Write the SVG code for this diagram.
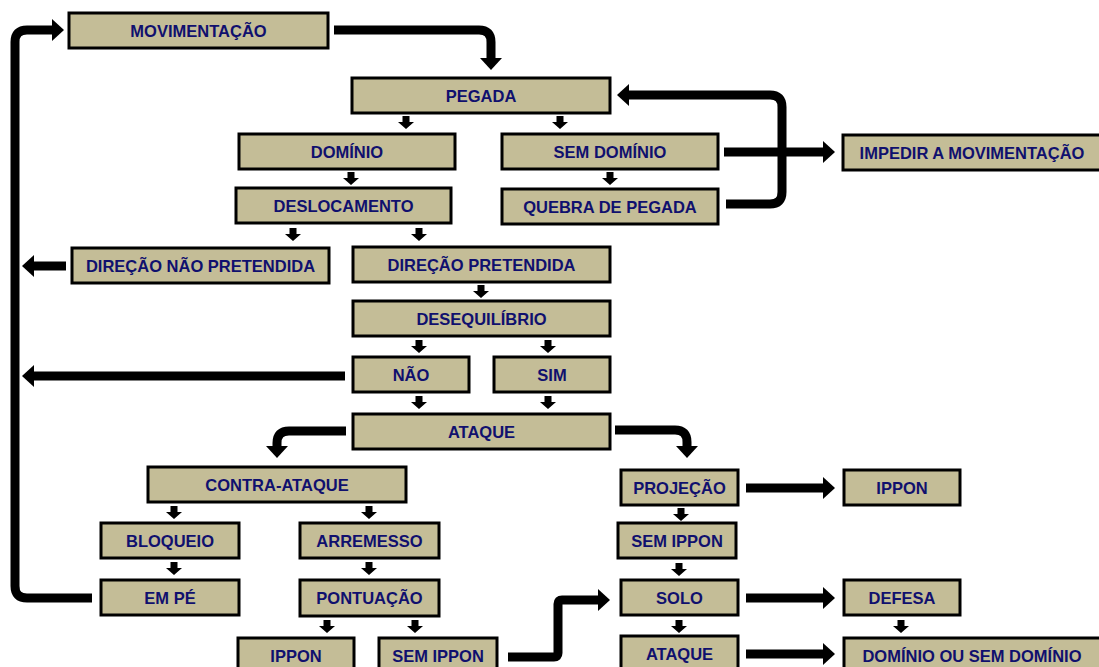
<svg xmlns="http://www.w3.org/2000/svg" xmlns:xlink="http://www.w3.org/1999/xlink" width="1099" height="667" viewBox="0 0 1099 667">
<style>
.box{fill:#C4BD97;stroke:#000;stroke-width:3}
.lbl{font-family:"Liberation Sans",Arial,sans-serif;font-weight:bold;font-size:16.5px;fill:#10106E;text-anchor:middle}
.conn{fill:none;stroke:#000;stroke-width:9}
.sa{fill:#000}
</style>
<defs>
<marker id="ah" markerUnits="userSpaceOnUse" markerWidth="14" markerHeight="24" refX="0" refY="11" orient="auto" viewBox="0 0 14 22">
<path d="M0,0 L12,11 L0,22 Z" fill="#000"/>
</marker>
<path id="da" d="M-3.5,0 h7 v6 h4.5 l-8,7 l-8,-7 h4.5 z"/>
</defs>
<rect width="1099" height="667" fill="#fff"/>

<g id="connectors">
<path class="conn" d="M334,30 H479 Q491,30 491,42 V58" marker-end="url(#ah)"/>
<path class="conn" d="M726,204 H770 Q782,204 782,192 V107 Q782,95 770,95 H629" marker-end="url(#ah)"/>
<path class="conn" d="M724,152 H823" marker-end="url(#ah)"/>
<path class="conn" d="M92,598 H27 Q15,598 15,586 V42 Q15,30 27,30 H52" marker-end="url(#ah)"/>
<path class="conn" d="M66,266 H34" marker-end="url(#ah)"/>
<path class="conn" d="M345,376 H34" marker-end="url(#ah)"/>
<path class="conn" d="M346,431 H289 Q277,431 277,443 V446" marker-end="url(#ah)"/>
<path class="conn" d="M615,430 H675 Q687,430 687,442 V446" marker-end="url(#ah)"/>
<path class="conn" d="M746,488 H823" marker-end="url(#ah)"/>
<path class="conn" d="M746,598 H823" marker-end="url(#ah)"/>
<path class="conn" d="M746,654 H823" marker-end="url(#ah)"/>
<path class="conn" d="M508,657 H554 Q558,657 558,653 V604 Q558,600 562,600 H598" marker-end="url(#ah)"/>
<g class="sa">
<use xlink:href="#da" x="406" y="116"/>
<use xlink:href="#da" x="560" y="116"/>
<use xlink:href="#da" x="351" y="172"/>
<use xlink:href="#da" x="610" y="172"/>
<use xlink:href="#da" x="293" y="228"/>
<use xlink:href="#da" x="419" y="228"/>
<use xlink:href="#da" x="481" y="285"/>
<use xlink:href="#da" x="419" y="340"/>
<use xlink:href="#da" x="548" y="340"/>
<use xlink:href="#da" x="419" y="396"/>
<use xlink:href="#da" x="548" y="396"/>
<use xlink:href="#da" x="174" y="506"/>
<use xlink:href="#da" x="369" y="506"/>
<use xlink:href="#da" x="174" y="562"/>
<use xlink:href="#da" x="369" y="562"/>
<use xlink:href="#da" x="681" y="508"/>
<use xlink:href="#da" x="679" y="563"/>
<use xlink:href="#da" x="327" y="620"/>
<use xlink:href="#da" x="415" y="620"/>
<use xlink:href="#da" x="679" y="620"/>
<use xlink:href="#da" x="901" y="620"/>
</g>
</g>

<g id="n-movimentacao"><rect class="box" x="69" y="13" width="259" height="35"/><text class="lbl" x="198.5" y="36.5">MOVIMENTAÇÃO</text></g>
<g id="n-pegada"><rect class="box" x="352" y="78" width="258" height="35"/><text class="lbl" x="481" y="101.5">PEGADA</text></g>
<g id="n-dominio"><rect class="box" x="239" y="134" width="216" height="35"/><text class="lbl" x="347" y="157.5">DOMÍNIO</text></g>
<g id="n-semdominio"><rect class="box" x="502" y="134" width="216" height="35"/><text class="lbl" x="610" y="157.5">SEM DOMÍNIO</text></g>
<g id="n-impedir"><rect class="box" x="843" y="135" width="260" height="35"/><text class="lbl" x="972" y="158.5">IMPEDIR A MOVIMENTAÇÃO</text></g>
<g id="n-deslocamento"><rect class="box" x="236" y="188" width="215" height="35"/><text class="lbl" x="343.5" y="211.5">DESLOCAMENTO</text></g>
<g id="n-quebra"><rect class="box" x="502" y="189" width="216" height="35"/><text class="lbl" x="610" y="212.5">QUEBRA DE PEGADA</text></g>
<g id="n-dirnaopret"><rect class="box" x="72" y="248" width="257" height="35"/><text class="lbl" x="200.5" y="271.5">DIREÇÃO NÃO PRETENDIDA</text></g>
<g id="n-dirpret"><rect class="box" x="353" y="247" width="257" height="35"/><text class="lbl" x="481.5" y="270.5">DIREÇÃO PRETENDIDA</text></g>
<g id="n-deseq"><rect class="box" x="353" y="301" width="257" height="35"/><text class="lbl" x="481.5" y="324.5">DESEQUILÍBRIO</text></g>
<g id="n-nao"><rect class="box" x="353" y="357" width="116" height="35"/><text class="lbl" x="411" y="380.5">NÃO</text></g>
<g id="n-sim"><rect class="box" x="494" y="357" width="116" height="35"/><text class="lbl" x="552" y="380.5">SIM</text></g>
<g id="n-ataque"><rect class="box" x="353" y="414" width="257" height="35"/><text class="lbl" x="481.5" y="437.5">ATAQUE</text></g>
<g id="n-contra"><rect class="box" x="148" y="467" width="258" height="35"/><text class="lbl" x="277" y="490.5">CONTRA-ATAQUE</text></g>
<g id="n-projecao"><rect class="box" x="621" y="470" width="117" height="35"/><text class="lbl" x="679.5" y="493.5">PROJEÇÃO</text></g>
<g id="n-ippon1"><rect class="box" x="844" y="470" width="116" height="35"/><text class="lbl" x="902" y="493.5">IPPON</text></g>
<g id="n-bloqueio"><rect class="box" x="101" y="523" width="138" height="35"/><text class="lbl" x="170" y="546.5">BLOQUEIO</text></g>
<g id="n-arremesso"><rect class="box" x="300" y="523" width="139" height="35"/><text class="lbl" x="369.5" y="546.5">ARREMESSO</text></g>
<g id="n-semippon1"><rect class="box" x="618" y="523" width="118" height="35"/><text class="lbl" x="677" y="546.5">SEM IPPON</text></g>
<g id="n-empe"><rect class="box" x="101" y="580" width="138" height="35"/><text class="lbl" x="170" y="603.5">EM PÉ</text></g>
<g id="n-pontuacao"><rect class="box" x="300" y="580" width="139" height="36"/><text class="lbl" x="369.5" y="604">PONTUAÇÃO</text></g>
<g id="n-solo"><rect class="box" x="621" y="580" width="117" height="35"/><text class="lbl" x="679.5" y="603.5">SOLO</text></g>
<g id="n-defesa"><rect class="box" x="844" y="580" width="116" height="35"/><text class="lbl" x="902" y="603.5">DEFESA</text></g>
<g id="n-ippon2"><rect class="box" x="238" y="638" width="116" height="35"/><text class="lbl" x="296" y="661.5">IPPON</text></g>
<g id="n-semippon2"><rect class="box" x="379" y="638" width="118" height="35"/><text class="lbl" x="438" y="661.5">SEM IPPON</text></g>
<g id="n-ataque2"><rect class="box" x="621" y="636" width="117" height="35"/><text class="lbl" x="679.5" y="659.5">ATAQUE</text></g>
<g id="n-dominioou"><rect class="box" x="844" y="638" width="258" height="35"/><text class="lbl" x="972" y="661.5">DOMÍNIO OU SEM DOMÍNIO</text></g>
</svg>
